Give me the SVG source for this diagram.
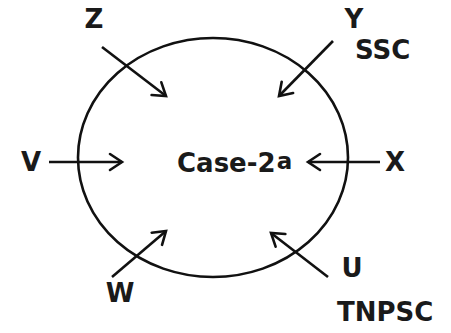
<svg xmlns="http://www.w3.org/2000/svg" width="451" height="333" viewBox="0 0 451 333">
<defs>
<marker id="ah" markerUnits="userSpaceOnUse" markerWidth="30" markerHeight="30" viewBox="-20 -15 30 30" refX="0" refY="0" orient="auto">
<path d="M-12,-8 L0,0 L-12,8" fill="none" stroke="#111" stroke-width="2.6" stroke-linejoin="miter" stroke-linecap="round"/>
</marker>
<style>
.lbl{font-family:"DejaVu Sans",Verdana,sans-serif;font-weight:bold;font-size:26px;fill:#1a1a1a}
.arr{stroke:#111;stroke-width:2.6;fill:none;marker-end:url(#ah)}
</style>
</defs>
<rect width="451" height="333" fill="#fff"/>
<g id="circle"><ellipse cx="213" cy="157.5" rx="135" ry="119.5" fill="none" stroke="#111" stroke-width="2.6"/></g>
<g id="center"><text class="lbl" x="177" y="172" font-size="27">Case-2<tspan font-size="23" dy="-3" dx="1">a</tspan></text></g>
<g id="Z"><text class="lbl" x="94" y="28" text-anchor="middle">Z</text></g>
<g id="Y"><text class="lbl" x="354" y="28" text-anchor="middle">Y</text><text class="lbl" x="355" y="59">SSC</text></g>
<g id="V"><text class="lbl" x="31" y="171" text-anchor="middle">V</text></g>
<g id="X"><text class="lbl" x="395" y="171" text-anchor="middle">X</text></g>
<g id="W"><text class="lbl" x="120" y="302" text-anchor="middle">W</text></g>
<g id="U"><text class="lbl" x="352" y="277" text-anchor="middle">U</text><text class="lbl" x="337" y="321">TNPSC</text></g>
<g id="connectors">
<line class="arr" x1="102" y1="47" x2="166" y2="96"/>
<line class="arr" x1="333" y1="41" x2="279" y2="96"/>
<line class="arr" x1="49" y1="162" x2="122" y2="162"/>
<line class="arr" x1="380" y1="162" x2="308" y2="162"/>
<line class="arr" x1="112" y1="277" x2="166" y2="231"/>
<line class="arr" x1="328" y1="277" x2="271" y2="233"/>
</g>
</svg>
